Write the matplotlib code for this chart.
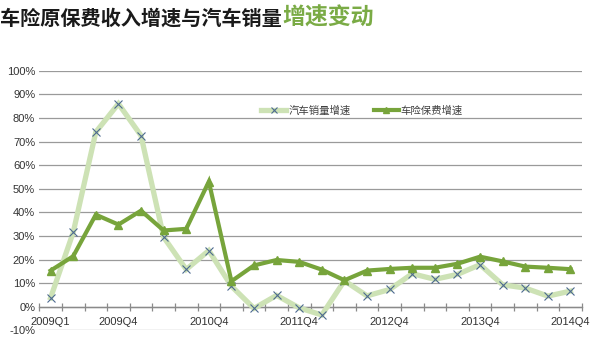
import matplotlib
matplotlib.use("Agg")
import matplotlib.pyplot as plt
from matplotlib.ticker import FixedLocator, MultipleLocator

# quarters 2009Q1 .. 2014Q4
quarters = [f"{y}Q{q}" for y in range(2009, 2015) for q in range(1, 5)]
shown_labels = ["2009Q1", "2009Q4", "2010Q4", "2011Q4", "2012Q4", "2013Q4", "2014Q4"]

car_sales = [3.8, 31.5, 74.0, 86.0, 72.5, 29.5, 15.8, 23.8, 8.7, -0.7, 4.8, -0.5,
             -3.5, 11.0, 4.6, 7.3, 14.0, 11.6, 13.7, 17.8, 9.3, 7.9, 4.5, 6.6]
premium = [15.3, 21.4, 39.0, 34.8, 40.7, 32.3, 33.0, 53.0, 10.8, 17.5, 19.8, 19.0,
           15.7, 11.2, 15.3, 16.0, 16.5, 16.5, 18.2, 21.2, 19.2, 17.0, 16.5, 15.9]

light_green = "#cde2b5"
dark_green = "#77a43b"
cross_color = "#4d6a90"
grid_color = "#9a9a9a"

plt.rcParams['font.family'] = ['Noto Sans CJK SC', 'DejaVu Sans']

fig = plt.figure(figsize=(5.93, 3.4), dpi=100)
ax = fig.add_axes([0.0663, 0.0285, 0.9147, 0.7635])

x = list(range(len(quarters)))
ax.plot(x, car_sales, color=light_green, lw=3.8, solid_joinstyle='miter', zorder=3,
        marker='x', markersize=6, markeredgecolor=cross_color, markeredgewidth=0.8,
        label="汽车销量增速")
ax.plot(x, premium, color=dark_green, lw=3.0, solid_joinstyle='miter', zorder=4,
        marker='^', markersize=6, markerfacecolor=dark_green, markeredgecolor=dark_green,
        label="车险保费增速")

ax.set_xlim(-0.5, len(quarters) - 0.5)
ax.set_ylim(-10, 100)
ax.yaxis.set_major_locator(MultipleLocator(10))
ax.yaxis.set_major_formatter(lambda v, p: f"{v:.0f}%")
ax.grid(axis='y', color=grid_color, lw=0.9, zorder=0)
ax.set_axisbelow(True)

for s in ['top', 'right', 'left']:
    ax.spines[s].set_visible(False)
ax.spines['bottom'].set_position(('data', 0))
ax.spines['bottom'].set_color('#8a8a8a')
ax.spines['bottom'].set_linewidth(1.0)

ax.xaxis.set_major_locator(FixedLocator([quarters.index(q) for q in shown_labels]))
ax.set_xticklabels(shown_labels)
ax.xaxis.set_minor_locator(FixedLocator([i - 0.5 for i in range(len(quarters) + 1)]))
ax.tick_params(axis='x', which='major', length=0, pad=7.5, labelsize=8, labelcolor='#333333')
ax.tick_params(axis='x', which='minor', direction='inout', length=6, width=0.9, color='#8a8a8a')
ax.tick_params(axis='y', length=0, pad=3, labelsize=8, labelcolor='#333333')
for lab in ax.get_xticklabels() + ax.get_yticklabels():
    lab.set_family(['Liberation Sans Narrow', 'Liberation Sans', 'DejaVu Sans'])

leg = ax.legend(loc='center', bbox_to_anchor=(0.595, 0.845), ncol=2, frameon=False,
                fontsize=7.5, handlelength=2.4, columnspacing=2.2, handletextpad=0.2,
                markerscale=0.8)
for t in leg.get_texts():
    t.set_color('#404040')

fig.text(0.0, 0.948, "车险原保费收入增速与汽车销量", fontsize=14.5, fontweight='bold',
         color='#1a1a1a', va='center', ha='left')
fig.text(0.476, 0.948, "增速变动", fontsize=16.5, fontweight='bold',
         color='#7aab45', va='center', ha='left')

fig.savefig("out.png", dpi=100)
